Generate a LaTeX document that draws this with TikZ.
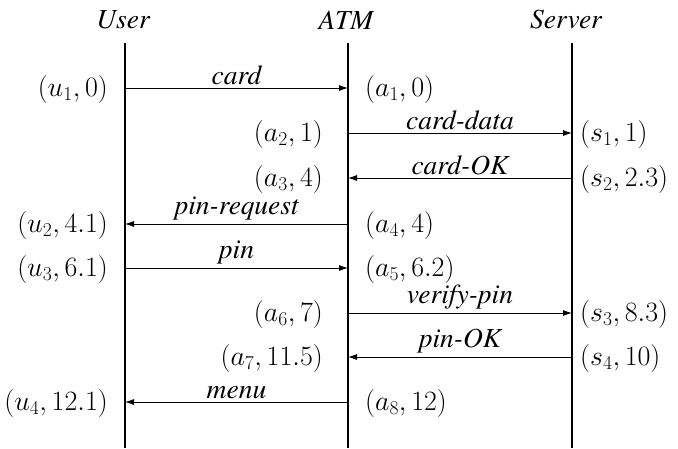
\RequirePackage{fix-cm}
\documentclass[tikz,border=0pt]{standalone}
\usepackage{fontspec}
\newfontfamily\tms{texgyretermes}[Extension=.otf, UprightFont=*-regular, ItalicFont=*-italic]
\usetikzlibrary{arrows.meta}
\begin{document}
\begin{tikzpicture}[x=1pt,y=-1pt,
  life/.style={line width=1.6pt},
  msg/.style={line width=0.8pt,-{Latex[length=9pt,width=6pt]}},
  hdr/.style={font=\tms\itshape\fontsize{27.5}{32}\selectfont},
  lbl/.style={font=\tms\itshape\fontsize{27.5}{32}\selectfont,above,inner sep=3pt},
  cl/.style={font=\fontsize{28}{34}\selectfont,anchor=east,inner sep=0pt},
  cr/.style={font=\fontsize{28}{34}\selectfont,anchor=west,inner sep=0pt}]
\useasboundingbox (0,0) rectangle (678,448);
% headers
\node[hdr] (hU) at (123,20) {User};
\node[hdr] (hA) at (346,20) {ATM};
\node[hdr] (hS) at (566,20) {Server};
% lifelines
\coordinate (Ut) at (125,43); \coordinate (Ub) at (125,448);
\coordinate (At) at (348,43); \coordinate (Ab) at (348,448);
\coordinate (St) at (572,43); \coordinate (Sb) at (572,448);
\draw[life] (Ut) -- (Ub);
\draw[life] (At) -- (Ab);
\draw[life] (St) -- (Sb);
% message points
\coordinate (u1) at (125,88);  \coordinate (a1) at (348,88);
\coordinate (a2) at (348,133); \coordinate (s1) at (572,133);
\coordinate (s2) at (572,178); \coordinate (a3) at (348,178);
\coordinate (a4) at (348,224); \coordinate (u2) at (125,224);
\coordinate (u3) at (125,268); \coordinate (a5) at (348,268);
\coordinate (a6) at (348,313); \coordinate (s3) at (572,313);
\coordinate (s4) at (572,357); \coordinate (a7) at (348,357);
\coordinate (a8) at (348,402); \coordinate (u4) at (125,402);
% messages
\draw[msg] (u1) -- node[lbl] (m1) {card} (a1);
\draw[msg] (a2) -- node[lbl] (m2) {card-data} (s1);
\draw[msg] (s2) -- node[lbl] (m3) {card-OK} (a3);
\draw[msg] (a4) -- node[lbl] (m4) {pin-request} (u2);
\draw[msg] (u3) -- node[lbl] (m5) {pin} (a5);
\draw[msg] (a6) -- node[lbl] (m6) {verify-pin} (s3);
\draw[msg] (s4) -- node[lbl] (m7) {pin-OK} (a7);
\draw[msg] (a8) -- node[lbl] (m8) {menu} (u4);
% event labels
\node[cl] (Lu1) at ([xshift=-17pt,yshift=-1pt]u1) {$(u_1, 0)$};
\node[cr] (La1) at ([xshift=17pt,yshift=-1pt]a1) {$(a_1, 0)$};
\node[cl] (La2) at ([xshift=-25pt,yshift=-1pt]a2) {$(a_2, 1)$};
\node[cr] (Ls1) at ([xshift=8pt,yshift=-1pt]s1) {$(s_1, 1)$};
\node[cl] (La3) at ([xshift=-25pt,yshift=-1pt]a3) {$(a_3, 4)$};
\node[cr] (Ls2) at ([xshift=8pt,yshift=-1pt]s2) {$(s_2, 2.3)$};
\node[cl] (Lu2) at ([xshift=-17pt,yshift=-1pt]u2) {$(u_2, 4.1)$};
\node[cr] (La4) at ([xshift=17pt,yshift=-1pt]a4) {$(a_4, 4)$};
\node[cl] (Lu3) at ([xshift=-17pt,yshift=-1pt]u3) {$(u_3, 6.1)$};
\node[cr] (La5) at ([xshift=17pt,yshift=-1pt]a5) {$(a_5, 6.2)$};
\node[cl] (La6) at ([xshift=-25pt,yshift=-1pt]a6) {$(a_6, 7)$};
\node[cr] (Ls3) at ([xshift=8pt,yshift=-1pt]s3) {$(s_3, 8.3)$};
\node[cl] (La7) at ([xshift=-25pt,yshift=-1pt]a7) {$(a_7, 11.5)$};
\node[cr] (Ls4) at ([xshift=8pt,yshift=-1pt]s4) {$(s_4, 10)$};
\node[cl] (Lu4) at ([xshift=-17pt,yshift=-1pt]u4) {$(u_4, 12.1)$};
\node[cr] (La8) at ([xshift=17pt,yshift=-1pt]a8) {$(a_8, 12)$};
\end{tikzpicture}
\end{document}
